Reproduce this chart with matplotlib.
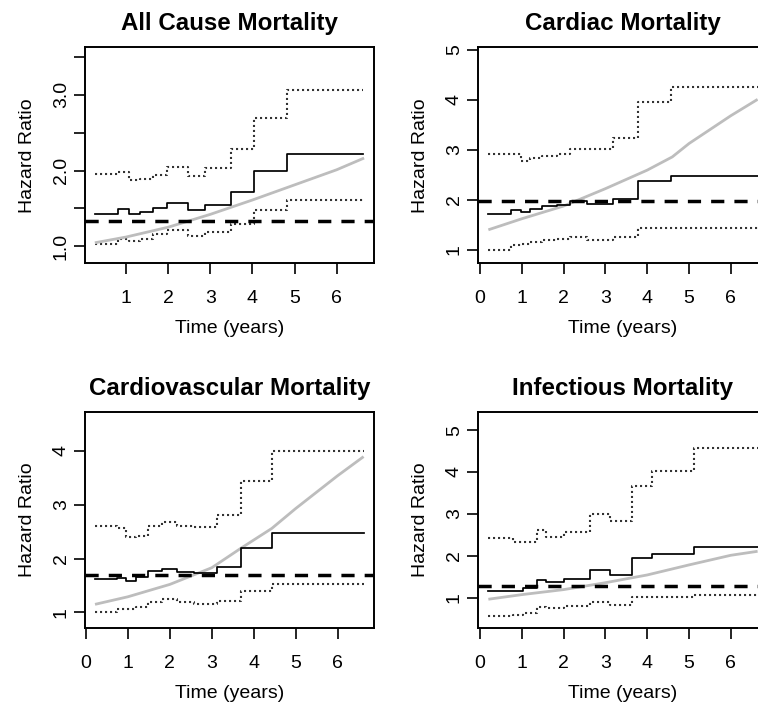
import matplotlib
matplotlib.use("Agg")
import matplotlib.pyplot as plt

plt.rcParams['font.family'] = ['Liberation Sans', 'DejaVu Sans']

# --- All cause mortality ---
ALL_T = [0.26, 0.82, 1.06, 1.33, 1.65, 1.98, 2.46, 2.88, 3.48, 4.04, 4.83]
ALL_END = 6.63
ALL_HR = [1.43, 1.485, 1.42, 1.45, 1.51, 1.57, 1.475, 1.55, 1.72, 2.0, 2.22]
ALL_UP = [1.955, 1.985, 1.88, 1.885, 1.945, 2.045, 1.925, 2.035, 2.285, 2.695, 3.07]
ALL_LO = [1.03, 1.095, 1.065, 1.095, 1.155, 1.21, 1.13, 1.185, 1.295, 1.475, 1.61]
ALL_CURVE_T = [0.26, 1, 2, 3, 4, 5, 6, 6.65]
ALL_CURVE = [1.044, 1.12, 1.25, 1.42, 1.61, 1.81, 2.01, 2.165]
ALL_REF = 1.33

# --- Cardiac mortality ---
CARD_T = [0.2, 0.73, 0.97, 1.2, 1.48, 1.85, 2.16, 2.55, 3.18, 3.77, 4.57]
CARD_END = 6.64
CARD_HR = [1.715, 1.785, 1.745, 1.815, 1.865, 1.9, 1.97, 1.92, 2.02, 2.375, 2.475]
CARD_UP = [2.915, 2.915, 2.775, 2.84, 2.88, 2.92, 3.01, 3.01, 3.24, 3.945, 4.25]
CARD_LO = [1.0, 1.095, 1.115, 1.16, 1.2, 1.215, 1.25, 1.2, 1.25, 1.43, 1.435]
CARD_CURVE_T = [0.2, 1, 2, 3, 4, 4.6, 5, 6, 6.64]
CARD_CURVE = [1.395, 1.616, 1.871, 2.219, 2.59, 2.855, 3.123, 3.68, 4.007]
CARD_REF = 1.97

# --- Cardiovascular mortality ---
CV_T = [0.215, 0.75, 0.955, 1.19, 1.49, 1.81, 2.16, 2.58, 3.12, 3.69, 4.43]
CV_END = 6.62
CV_HR = [1.62, 1.645, 1.585, 1.665, 1.77, 1.805, 1.755, 1.725, 1.835, 2.19, 2.47]
CV_UP = [2.605, 2.56, 2.395, 2.425, 2.605, 2.675, 2.61, 2.58, 2.81, 3.44, 4.0]
CV_LO = [1.01, 1.06, 1.06, 1.105, 1.2, 1.24, 1.185, 1.155, 1.21, 1.405, 1.53]
CV_CURVE_T = [0.215, 1, 2, 3, 3.69, 4.43, 5, 6, 6.62]
CV_CURVE = [1.149, 1.29, 1.52, 1.83, 2.19, 2.56, 2.93, 3.54, 3.895]
CV_REF = 1.694

# --- Infectious mortality ---
INF_T = [0.2, 0.8, 1.04, 1.36, 1.58, 2.01, 2.62, 3.11, 3.63, 4.11, 5.12]
INF_END = 6.64
INF_HR = [1.167, 1.167, 1.24, 1.42, 1.365, 1.445, 1.66, 1.54, 1.94, 2.04, 2.2]
INF_UP = [2.415, 2.335, 2.335, 2.615, 2.455, 2.575, 3.0, 2.835, 3.665, 4.02, 4.565]
INF_LO = [0.565, 0.585, 0.625, 0.77, 0.745, 0.8, 0.905, 0.825, 1.01, 1.025, 1.055]
INF_CURVE_T = [0.2, 1, 2, 3, 4, 5, 6, 6.64]
INF_CURVE = [0.96, 1.07, 1.19, 1.355, 1.54, 1.78, 2.01, 2.105]
INF_REF = 1.286

W, H = 758, 705


def add_axes_px(fig, left, top, right, bottom):
    """Place an axes using pixel coords measured from the top-left corner."""
    return fig.add_axes([left / W, 1 - bottom / H, (right - left) / W, (bottom - top) / H])


def steps(ax, t, t_end, v, **kw):
    ax.step(t + [t_end], v + [v[-1]], where='post', **kw)


def draw_panel(ax, title, t, t_end, hr, up, lo, curve_t, curve, ref,
               xlim, ylim, xticks, yticks, yticklabels):
    # confidence band (dotted), estimate (solid), smooth fit (gray), reference (dashed)
    dotted = dict(color='#333333', lw=1.5, ls=(0, (1, 1.4)))
    steps(ax, t, t_end, up, **dotted)
    steps(ax, t, t_end, lo, **dotted)
    ax.plot(curve_t, curve, color='#bdbdbd', lw=2.0, solid_capstyle='butt')
    steps(ax, t, t_end, hr, color='black', lw=1.25)
    ax.axhline(ref, color='black', lw=2.5, ls=(0, (3.8, 2.9)))

    ax.set_xlim(*xlim)
    ax.set_ylim(*ylim)
    ax.set_xticks(xticks)
    ax.set_xticklabels([str(x) for x in xticks])
    ax.set_yticks(yticks)
    ax.set_yticklabels(yticklabels, rotation=90, va='center')
    ax.tick_params(direction='out', length=7.9, width=1.2, labelsize=14)
    ax.tick_params(axis='x', pad=11.5)
    ax.tick_params(axis='y', pad=3)
    for s in ax.spines.values():
        s.set_linewidth(1.4)

    ax.set_title(title, fontsize=17.4, fontweight='bold', pad=12.3)
    h_px = ax.get_position().height * H
    w_px = ax.get_position().width * W
    ax.set_xlabel('Time (years)', fontsize=14, va='baseline')
    ax.xaxis.set_label_coords(0.5, -70 / h_px)
    ax.set_ylabel('Hazard Ratio', fontsize=14, va='baseline')
    ax.yaxis.set_label_coords(-53 / w_px, 0.5)


fig = plt.figure(figsize=(W / 100, H / 100), dpi=100)

ax1 = add_axes_px(fig, 85, 47.3, 374.5, 263.5)
draw_panel(ax1, 'All Cause Mortality', ALL_T, ALL_END, ALL_HR, ALL_UP, ALL_LO,
           ALL_CURVE_T, ALL_CURVE, ALL_REF, (0.027, 6.897), (0.77, 3.63),
           [1, 2, 3, 4, 5, 6], [1.0, 1.5, 2.0, 2.5, 3.0, 3.5],
           ['1.0', '', '2.0', '', '3.0', ''])

ax2 = add_axes_px(fig, 478, 47.3, 767, 263.5)
draw_panel(ax2, 'Cardiac Mortality', CARD_T, CARD_END, CARD_HR, CARD_UP, CARD_LO,
           CARD_CURVE_T, CARD_CURVE, CARD_REF, (-0.048, 6.865), (0.72, 5.05),
           [0, 1, 2, 3, 4, 5, 6], [1, 2, 3, 4, 5], ['1', '2', '3', '4', '5'])

ax3 = add_axes_px(fig, 85, 411.7, 374.5, 627.7)
draw_panel(ax3, 'Cardiovascular Mortality', CV_T, CV_END, CV_HR, CV_UP, CV_LO,
           CV_CURVE_T, CV_CURVE, CV_REF, (-0.024, 6.88), (0.715, 4.73),
           [0, 1, 2, 3, 4, 5, 6], [1, 2, 3, 4], ['1', '2', '3', '4'])

ax4 = add_axes_px(fig, 478, 411.7, 767, 627.7)
draw_panel(ax4, 'Infectious Mortality', INF_T, INF_END, INF_HR, INF_UP, INF_LO,
           INF_CURVE_T, INF_CURVE, INF_REF, (-0.048, 6.865), (0.28, 5.44),
           [0, 1, 2, 3, 4, 5, 6], [1, 2, 3, 4, 5], ['1', '2', '3', '4', '5'])

plt.savefig('out.png', dpi=100)
